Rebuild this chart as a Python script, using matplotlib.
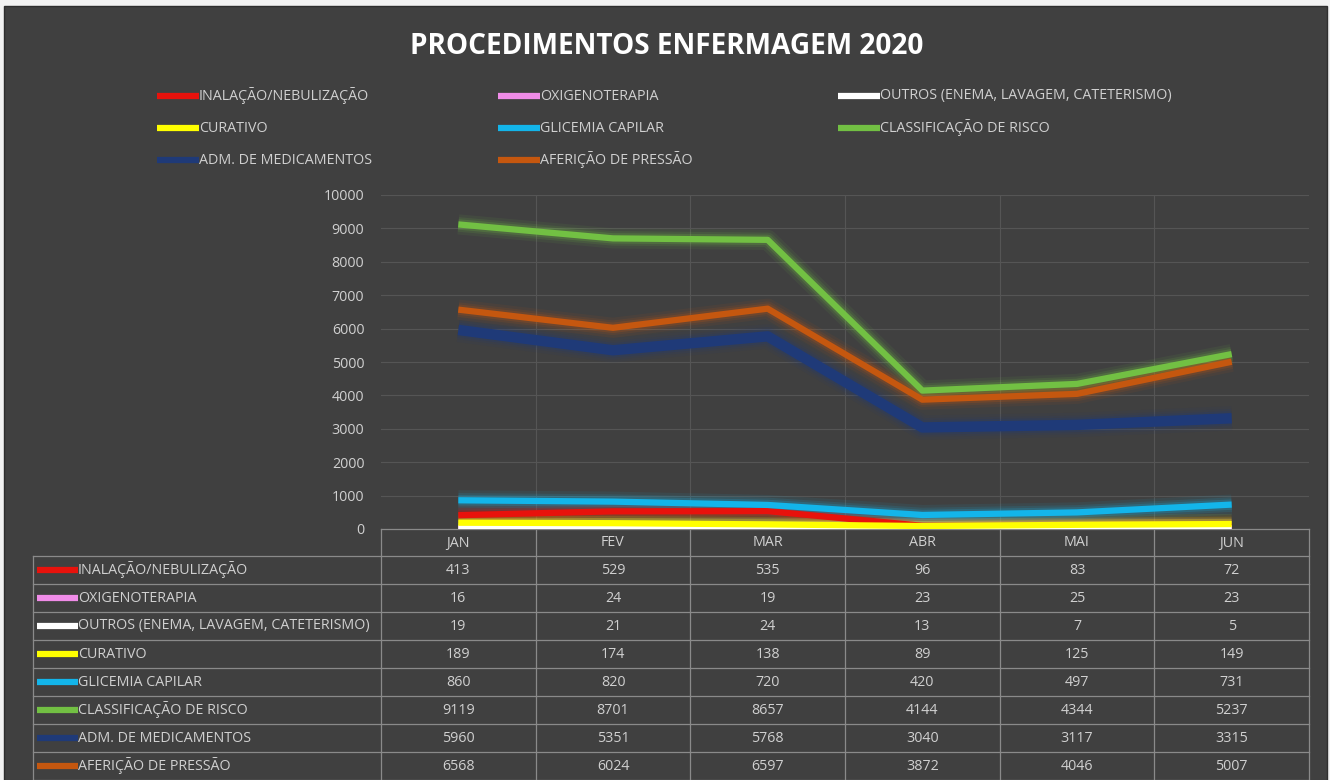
import matplotlib
matplotlib.use("Agg")
import matplotlib.pyplot as plt
from matplotlib.patches import Rectangle
from matplotlib.lines import Line2D

plt.rcParams['font.family'] = ['Open Sans', 'DejaVu Sans']

months = ["JAN", "FEV", "MAR", "ABR", "MAI", "JUN"]
series_names = [
    "INALAÇÃO/NEBULIZAÇÃO",
    "OXIGENOTERAPIA",
    "OUTROS (ENEMA, LAVAGEM, CATETERISMO)",
    "CURATIVO",
    "GLICEMIA CAPILAR",
    "CLASSIFICAÇÃO DE RISCO",
    "ADM. DE MEDICAMENTOS",
    "AFERIÇÃO DE PRESSÃO",
]
inalacao = [413, 529, 535, 96, 83, 72]
oxigenoterapia = [16, 24, 19, 23, 25, 23]
outros = [19, 21, 24, 13, 7, 5]
curativo = [189, 174, 138, 89, 125, 149]
glicemia = [860, 820, 720, 420, 497, 731]
classificacao = [9119, 8701, 8657, 4144, 4344, 5237]
adm_medicamentos = [5960, 5351, 5768, 3040, 3117, 3315]
afericao = [6568, 6024, 6597, 3872, 4046, 5007]
series_values = [inalacao, oxigenoterapia, outros, curativo, glicemia,
                 classificacao, adm_medicamentos, afericao]
colors = ["#E8120C", "#F08CE8", "#FFFFFF", "#FFFF00", "#13B5EA",
          "#72C043", "#1F3A78", "#C5570F"]
widths = [4.5, 4.5, 4.5, 4.5, 4.5, 4.5, 7.5, 4.5]
yticks = [0, 1000, 2000, 3000, 4000, 5000, 6000, 7000, 8000, 9000, 10000]
title = "PROCEDIMENTOS ENFERMAGEM 2020"

W, H = 1330, 780
BG = "#404040"
TXT = "#D0D0D0"
GRID = "#555555"
FS = 10.3

fig = plt.figure(figsize=(W / 100, H / 100), dpi=100, facecolor="#F2F2F2")

# chart background
bgax = fig.add_axes([0, 0, 1, 1])
bgax.set_xlim(0, W)
bgax.set_ylim(H, 0)
bgax.axis("off")
bgax.add_patch(Rectangle((4, 6), 1323, 780, facecolor=BG, edgecolor="#2E2E2E", lw=1))

# title
fig.text(667 / W, 1 - 46 / H, title, ha="center", va="center",
         fontsize=20.2, fontweight="bold", color="white")

# legend (top)
leg_x = [157, 498, 838]
leg_y = [96, 128, 160]
for i, (name, c) in enumerate(zip(series_names, colors)):
    col = i % 3
    row = i // 3
    x0 = leg_x[col]
    y0 = leg_y[row]
    bgax.add_line(Line2D([x0, x0 + 42], [y0, y0], color=c, lw=4.5, solid_capstyle="butt"))
    bgax.text(x0 + 42, y0, name, ha="left", va="center", fontsize=FS, color=TXT)

# plot area
L, R, T, B = 381, 1309, 195, 529
ax = fig.add_axes([L / W, 1 - B / H, (R - L) / W, (B - T) / H])
ax.set_facecolor(BG)
ax.patch.set_alpha(0)
x = list(range(len(months)))
ax.set_xlim(-0.5, len(months) - 0.5)
ax.set_ylim(0, 10000)
ax.set_yticks(yticks)
ax.set_yticklabels([str(v) for v in yticks], fontsize=FS, color=TXT)
ax.tick_params(axis="y", length=0, pad=12)
ax.set_xticks([])
for v in yticks:
    ax.axhline(v, color=GRID, lw=0.8, zorder=0)
for k in range(1, len(months)):
    ax.axvline(k - 0.5, color=GRID, lw=0.8, zorder=0)
for s in ax.spines.values():
    s.set_visible(False)

for vals, c, w in zip(series_values, colors, widths):
    for extra, a in [(10, 0.08), (6, 0.12), (3, 0.2)]:
        ax.plot(x, vals, color=c, lw=w + extra, alpha=a, solid_capstyle="butt",
                solid_joinstyle="round", zorder=2)
    ax.plot(x, vals, color=c, lw=w, solid_capstyle="butt",
            solid_joinstyle="round", zorder=3)

# data table
tl = 33
row_h = 28
hdr_top = 529
body_top = 556
cw = (R - L) / len(months)
lc = "#8A8A8A"
for k in range(len(months) + 1):
    xx = L + k * cw
    bgax.add_line(Line2D([xx, xx], [hdr_top, H], color=lc, lw=0.9))
bgax.add_line(Line2D([L, R], [hdr_top, hdr_top], color=lc, lw=0.9))
for k, m in enumerate(months):
    bgax.text(L + (k + 0.5) * cw, 543, m, ha="center", va="center", fontsize=FS, color=TXT)
bgax.add_line(Line2D([tl, tl], [body_top, H], color=lc, lw=0.9))
for r in range(len(series_names) + 1):
    yy = body_top + r * row_h
    bgax.add_line(Line2D([tl, R], [yy, yy], color=lc, lw=0.9))
for r, (name, c, vals) in enumerate(zip(series_names, colors, series_values)):
    yc = body_top + (r + 0.5) * row_h
    bgax.add_line(Line2D([37, 78], [yc, yc], color=c, lw=4.5, solid_capstyle="butt"))
    bgax.text(78, yc, name, ha="left", va="center", fontsize=FS, color=TXT)
    for k, v in enumerate(vals):
        bgax.text(L + (k + 0.5) * cw, yc, str(v), ha="center", va="center",
                  fontsize=FS, color=TXT)

fig.savefig("out.png", dpi=100, facecolor=fig.get_facecolor())
